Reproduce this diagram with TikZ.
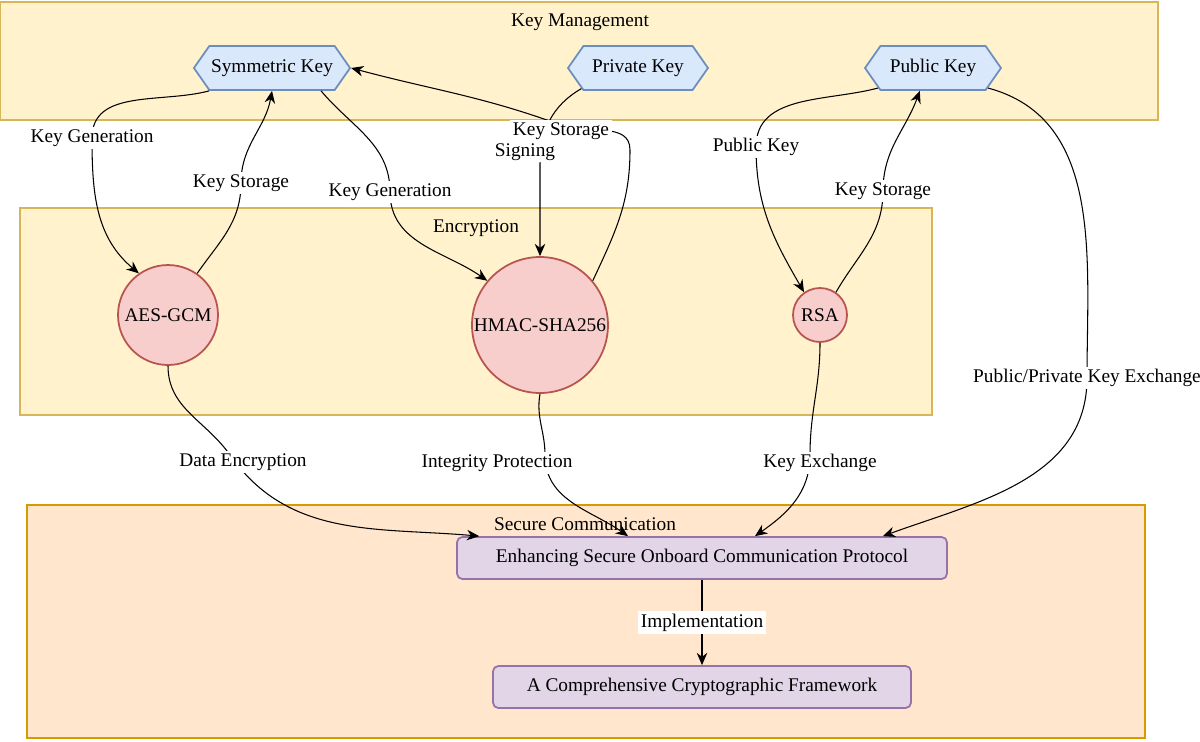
\documentclass[tikz,border=0pt]{standalone}
\usepackage{fontspec}
\setmainfont{Liberation Serif}
\usetikzlibrary{arrows.meta,shapes.symbols}
\definecolor{kmfill}{HTML}{FFF2CC}\definecolor{kmdraw}{HTML}{D6B656}
\definecolor{scfill}{HTML}{FFE6CC}\definecolor{scdraw}{HTML}{D79B00}
\definecolor{hxfill}{HTML}{DAE8FC}\definecolor{hxdraw}{HTML}{6C8EBF}
\definecolor{cfill}{HTML}{F8CECC}\definecolor{cdraw}{HTML}{B85450}
\definecolor{pfill}{HTML}{E1D5E7}\definecolor{pdraw}{HTML}{9673A6}
\tikzset{
  u/.style={x=0.02cm,y=0.02cm},
  cluster/.style={draw=kmdraw,fill=kmfill,line width=1pt},
  key/.style={signal,signal to=east and west,signal pointer angle=110,draw=hxdraw,fill=hxfill,line width=1pt,minimum height=0.88cm,inner sep=1pt},
  algo/.style={circle,draw=cdraw,fill=cfill,line width=1pt,inner sep=0pt},
  proc/.style={rounded corners=3pt,draw=pdraw,fill=pfill,line width=1pt,minimum height=0.84cm},
  arr/.style={-{Stealth[length=7pt,width=6pt]},line width=0.6pt},
  lbl/.style={fill=white,inner sep=1.5pt},
}
\begin{document}
\begin{tikzpicture}[u,font=\fontsize{11}{13}\selectfont]
\useasboundingbox (0,0) rectangle (1200,-741);
% clusters
\draw[cluster] (0,-2) rectangle (1158,-120);
\node (kmt) at (580,-22) {Key Management};
\draw[cluster] (20,-208) rectangle (932,-415);
\node (enct) at (476,-228) {Encryption};
\draw[cluster,draw=scdraw,fill=scfill] (27,-505) rectangle (1145,-738);
\node (sct) at (585,-524) {Secure Communication};
% keys
\node[key,minimum width=3cm] (sym) at (272,-68) {Symmetric Key};
\node[key,minimum width=2.8cm] (priv) at (638,-68) {Private Key};
\node[key,minimum width=2.72cm] (pub) at (933,-68) {Public Key};
% algorithms
\node[algo,minimum size=2cm] (aes) at (168,-315) {AES-GCM};
\node[algo,minimum size=2.72cm] (hmac) at (540,-325) {HMAC-SHA256};
\node[algo,minimum size=1.08cm] (rsa) at (820,-315) {RSA};
% protocol
\node[proc,minimum width=9.8cm] (enh) at (702,-558) {Enhancing Secure Onboard Communication Protocol};
\node[proc,minimum width=8.36cm] (comp) at (702,-687) {A Comprehensive Cryptographic Framework};
% connectors
\draw[arr] (sym.200) to[out=195,in=90] (92,-138) node[lbl]{Key Generation} to[out=-90,in=140] (aes.125);
\draw[arr] (aes.55) to[out=55,in=-90] (241,-183) node[lbl]{Key Storage} to[out=90,in=-100] (sym.south);
\draw[arr] (sym.-25) to[out=-50,in=90] (390,-192) node[lbl]{Key Generation} to[out=-90,in=145] (hmac.140);
\draw[arr] (hmac.40) to[out=65,in=-90] (630,-150) to[out=90,in=-20] (561,-125) to[out=160,in=-15] (sym.east);
\draw[arr] (priv.200) to[out=210,in=90] (540,-165) to[out=-90,in=90] (hmac.north);
\node[lbl] (klab) at (561,-131) {Key Storage};
\node[fill=white,inner sep=1pt] (slab) at (525,-152) {Signing};
\draw[arr] (pub.200) to[out=195,in=90] (756,-147) node[lbl]{Public Key} to[out=-90,in=120] (rsa.125);
\draw[arr] (rsa.55) to[out=60,in=-90] (883,-191) node[lbl]{Key Storage} to[out=90,in=-110] (pub.-120);
\draw[arr] (pub.-20) to[out=-15,in=90] (1087,-378) node[lbl]{Public/Private Key Exchange} to[out=-90,in=20] ([xshift=-1.3cm]enh.north east);
\draw[arr] (aes.south) to[out=-90,in=125] (230,-455) to[out=-55,in=175] ([xshift=0.46cm]enh.north west);
\node[lbl] (delab) at (243,-462) {Data Encryption};
\draw[arr] (hmac.south) to[out=-100,in=90] (545,-455) to[out=-90,in=145] ([xshift=-1.48cm]enh.north);
\node[lbl] (iplab) at (497,-463) {Integrity Protection};
\draw[arr] (rsa.south) to[out=-90,in=90] (810,-455) to[out=-90,in=35] ([xshift=1.06cm]enh.north);
\node[lbl] (kelab) at (820,-463) {Key Exchange};
\draw[arr] (enh) -- node[lbl]{Implementation} (comp);
\end{tikzpicture}
\end{document}
